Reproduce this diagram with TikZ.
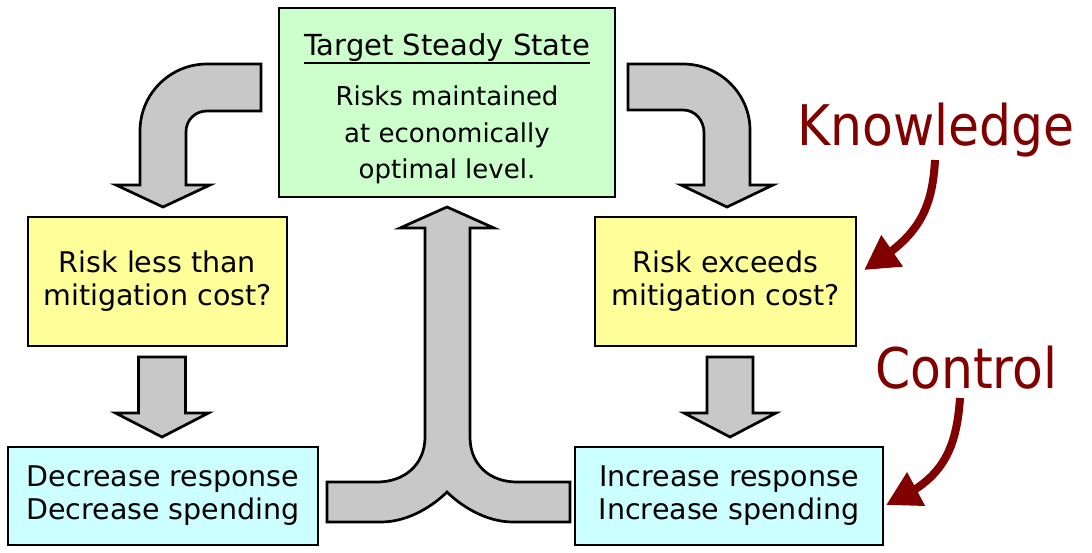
\documentclass[tikz,border=0pt]{standalone}
\usepackage{fontspec}
\setmainfont{DejaVu Sans}
\newfontfamily\labelfont[FakeStretch=0.9]{DejaVu Sans}
\usetikzlibrary{arrows.meta,calc,bending}
\definecolor{boxgreen}{RGB}{204,255,204}
\definecolor{boxyellow}{RGB}{255,255,153}
\definecolor{boxcyan}{RGB}{204,255,255}
\definecolor{arrgray}{RGB}{200,200,200}
\definecolor{darkred}{RGB}{128,0,0}
\newcommand\myul[1]{\setbox0\hbox{#1}\rlap{\vrule width\wd0 height -6pt depth 8pt}\box0}
\begin{document}
\begin{tikzpicture}[x=1pt,y=-1pt,
  box/.style={draw=black,line width=2.2pt,align=center,inner sep=0pt,text=black},
  greenbox/.style={box,fill=boxgreen,font=\fontsize{26}{36.5}\selectfont},
  yellowbox/.style={box,fill=boxyellow,font=\fontsize{28.5}{33}\selectfont},
  cyanbox/.style={box,fill=boxcyan,font=\fontsize{28.5}{33}\selectfont},
  blockarrow/.style={fill=arrgray,draw=black,line width=2.7pt,line join=miter},
  redlabel/.style={text=darkred,inner sep=0pt,anchor=base west,font=\labelfont\fontsize{56}{56}\selectfont},
  redarrow/.style={draw=darkred,line width=8pt,-{Triangle[length=34pt,width=36pt]}}]
\useasboundingbox (0,0) rectangle (1092,552);
\fill[white] (0,0) rectangle (1092,552);

% boxes
\node[greenbox,minimum width=336pt,minimum height=189pt] (ts) at (447,102.5)
  {{\fontsize{29}{29}\selectfont\rule{0pt}{34.5pt}\myul{Target Steady State}}\\[13.5pt]
   Risks maintained\\at economically\\optimal level.};
\node[yellowbox,minimum width=259pt,minimum height=129pt] (ly) at (157.5,281.5)
  {Risk less than\\mitigation cost?};
\node[yellowbox,minimum width=261pt,minimum height=129pt] (ry) at (725.5,281.5)
  {Risk exceeds\\mitigation cost?};
\node[cyanbox,minimum width=310pt,minimum height=98pt] (lc) at (163,496)
  {Decrease response\\Decrease spending};
\node[cyanbox,minimum width=308pt,minimum height=98pt] (rc) at (729,496)
  {Increase response\\Increase spending};

% curved block arrow top-left
\draw[blockarrow] (261,64) -- (207,64) .. controls (170,64) and (140,94) .. (140,131)
  -- (140,185) -- (116,185) -- (163,207) -- (210,185) -- (186,185) -- (186,132)
  .. controls (186,120) and (195,111) .. (207,111) -- (261,111) -- cycle;
% curved block arrow top-right
\draw[blockarrow] (628,64) -- (683,64) .. controls (720,64) and (750,94) .. (750,130)
  -- (750,185) -- (773,185) -- (727,207) -- (681,185) -- (704,185) -- (704,133)
  .. controls (704,120) and (695,110) .. (683,110) -- (628,110) -- cycle;
% straight down arrows
\draw[blockarrow] (138.5,357) -- (185.5,357) -- (185.5,413) -- (208.5,413) -- (162,437)
  -- (115.5,413) -- (138.5,413) -- cycle;
\draw[blockarrow] (707,357) -- (753,357) -- (753,413) -- (776,413) -- (730,437)
  -- (684,413) -- (707,413) -- cycle;
% merging Y arrow
\draw[blockarrow] (447,207) -- (494,228) -- (470,228) -- (470,437)
  .. controls (470,465) and (490,482) .. (517,482) -- (570,482) -- (570,522) -- (513,522)
  .. controls (485,522) and (460,505) .. (447,492)
  .. controls (434,505) and (409,522) .. (381,522) -- (327,522) -- (327,482) -- (377,482)
  .. controls (404,482) and (425,465) .. (425,437) -- (425,228) -- (400,228) -- cycle;

% red labels
\node[redlabel] (know) at (797,145) {Knowledge};
\node[redlabel] (ctrl) at (875,388) {Control};
\coordinate (k0) at (935,160);
\coordinate (c0) at (960,398);
\draw[redarrow] (k0) .. controls (932,218) and (912,240) .. ($(ry.east)+(7,-11.5)$);
\draw[redarrow] (c0) .. controls (956,458) and (937,482) .. ($(rc.east)+(2,9)$);
\end{tikzpicture}
\end{document}
